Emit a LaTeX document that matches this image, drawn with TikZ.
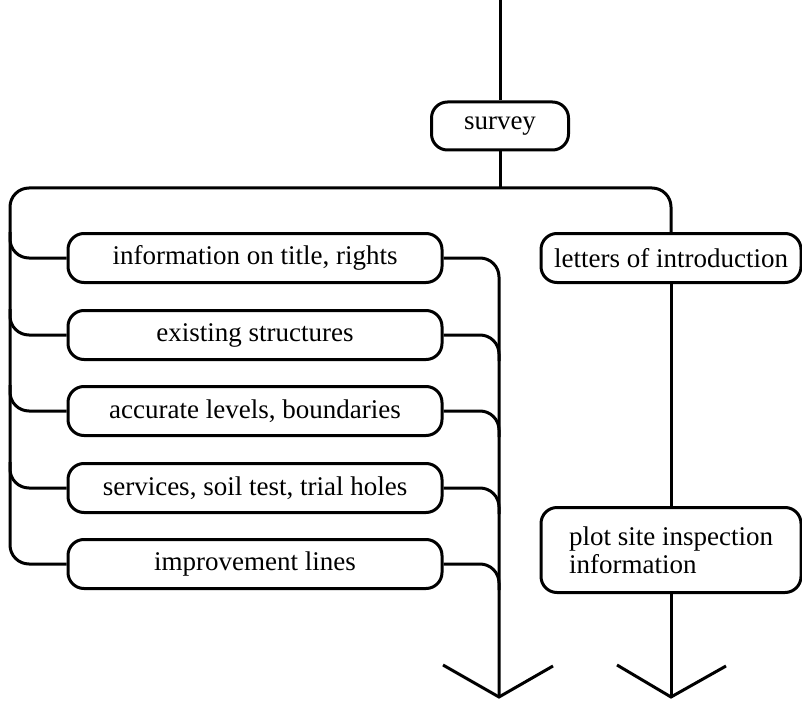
\documentclass[tikz,border=0pt]{standalone}
\usepackage{fontspec}
\setmainfont{Liberation Serif}

\begin{document}
\begin{tikzpicture}[x=1pt,y=-1pt]
    \tikzstyle{box}=[draw, rounded corners=16pt, line width=3pt, minimum height=49pt, inner sep=0pt, font=\fontsize{27}{28}\selectfont]
    \tikzstyle{wide}=[box, minimum width=374pt]
    \tikzstyle{side}=[box, minimum width=260pt]
    \tikzstyle{link}=[line width=3pt, rounded corners=19pt]
    \tikzstyle{chevron}=[line width=3pt, line join=miter]
    \useasboundingbox (0,0) rectangle (802,703);
    % top of the chart
    \coordinate (top) at (500,0);
    \node[box, minimum width=137pt, minimum height=48pt] (survey) at (500,126) {survey};
    \coordinate (split) at (500,188);
    \coordinate (lspine) at (10,188);
    % left column
    \node[wide] (info) at (255,258) {information on title, rights};
    \node[wide] (exist) at (255,335) {existing structures};
    \node[wide] (levels) at (255,411) {accurate levels, boundaries};
    \node[wide] (services) at (255,488) {services, soil test, trial holes};
    \node[wide] (improve) at (255,564) {improvement lines};
    \coordinate (tipL) at (499,697);
    % right column
    \node[side] (letters) at (671,258) {letters of introduction};
    \node[side, minimum height=85pt, align=left] (plot) at (671,550) {plot site inspection\\information};
    \coordinate (tipR) at (671,697);

    \draw[link] (top) -- (survey.north);
    \draw[link] (survey.south) -- (split);
    \draw[link] (improve.west) -| (lspine) -| (letters.north);
    \foreach \b in {info,exist,levels,services}
      \draw[link] (\b.west) -| (lspine |- \b.north);
    \draw[link] (info.east) -| (tipL);
    \foreach \b in {exist,levels,services,improve}
      \draw[link] (\b.east) -| (tipL |- \b.south);
    \draw[link] (letters.south) -- (plot.north);
    \draw[link] (plot.south) -- (tipR);
    \draw[chevron] ([shift={(-56,-32)}]tipL) -- (tipL) -- ([shift={(54,-31)}]tipL);
    \draw[chevron] ([shift={(-54,-32)}]tipR) -- (tipR) -- ([shift={(55,-31)}]tipR);
\end{tikzpicture}
\end{document}
